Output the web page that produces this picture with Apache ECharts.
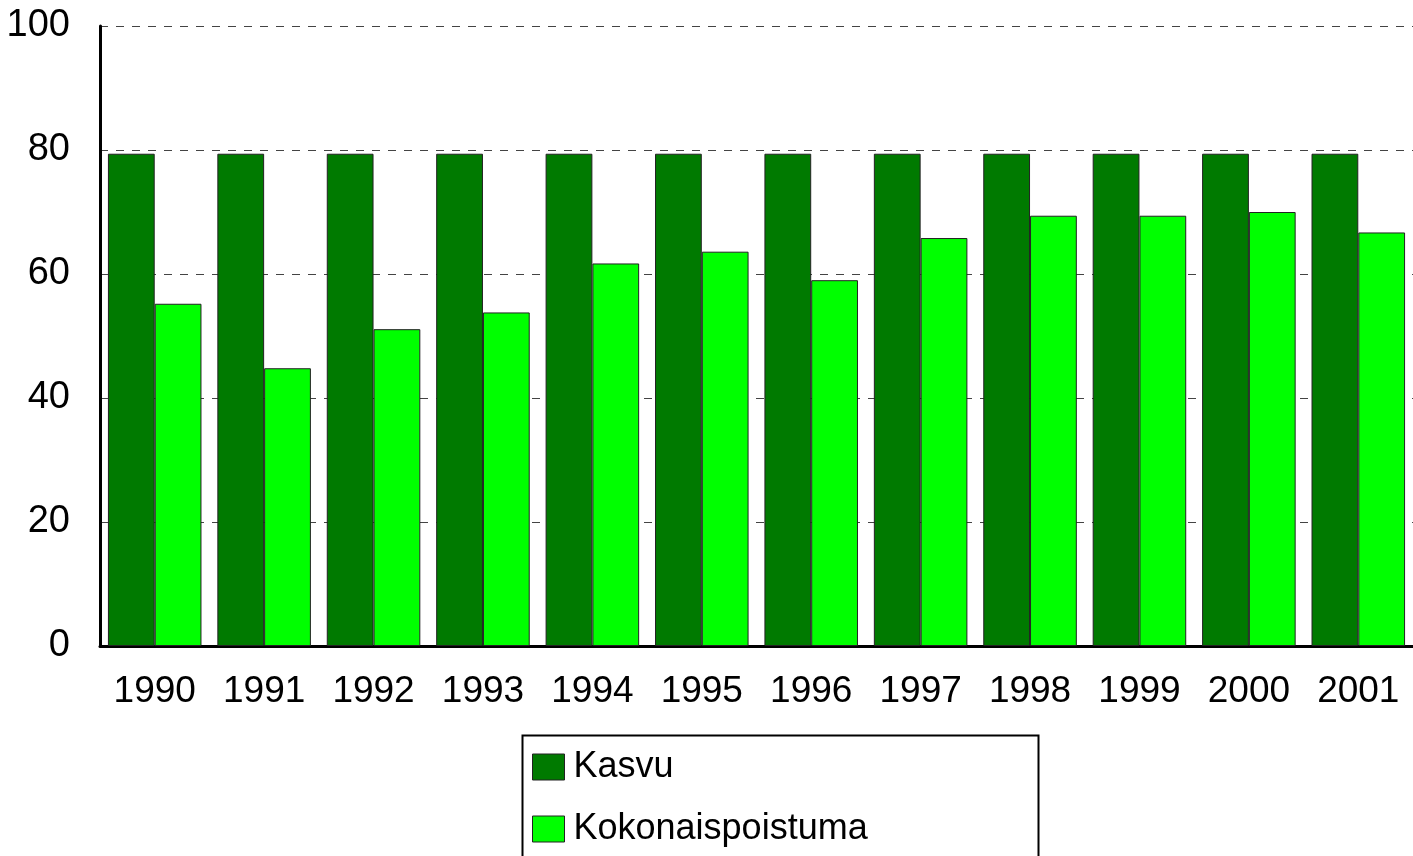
<!DOCTYPE html>
<html>
<head>
<meta charset="utf-8">
<script src="https://cdn.jsdelivr.net/npm/echarts@6/dist/echarts.min.js"></script>
<style>
	html, body { margin: 0; padding: 0; background: #fff; }
	#chart { width: 1413px; height: 856px; }
</style>
</head>
<body>
<div id="chart"></div>
<script>
var years = ['1990', '1991', '1992', '1993', '1994', '1995', '1996', '1997', '1998', '1999', '2000', '2001'];
var kasvu = [79.4, 79.4, 79.4, 79.4, 79.4, 79.4, 79.4, 79.4, 79.4, 79.4, 79.4, 79.4];
var kokonaispoistuma = [55.2, 44.8, 51.1, 53.8, 61.7, 63.6, 59.0, 65.8, 69.4, 69.4, 70.0, 66.7];
var yTicks = [0, 20, 40, 60, 80, 100];

var font = '"Liberation Sans", Arial, sans-serif';

var chart = document.getElementById('chart');
var myChart = echarts.init(chart);

var options = {
	animation: false,
	textStyle: { fontFamily: font },
	grid: {
		left: 100,
		top: 26,
		width: 1325,
		height: 620
	},
	// legend frame runs off the bottom edge like in the original
	graphic: [{
		type: 'rect',
		left: 520,
		top: 733,
		shape: { width: 516, height: 140 },
		style: { fill: 'none', stroke: '#000', lineWidth: 2 },
		z: 10
	}],
	legend: {
		orient: 'vertical',
		left: 521,
		top: 734,
		data: ['Kasvu', 'Kokonaispoistuma'],
		icon: 'rect',
		itemWidth: 32,
		itemHeight: 26,
		itemGap: 22,
		padding: [13, 10, 0, 11],
		itemStyle: { borderColor: '#222', borderWidth: 1 },
		textStyle: { fontFamily: font, fontSize: 36, color: '#000', lineHeight: 40, padding: [0, 0, 0, 4] }
	},
	xAxis: {
		type: 'category',
		data: years,
		axisLine: { lineStyle: { color: '#000', width: 3 } },
		axisTick: { show: false },
		axisLabel: { interval: 0, fontFamily: font, fontSize: 37, color: '#000', margin: 27 }
	},
	yAxis: {
		type: 'value',
		min: yTicks[0],
		max: yTicks[yTicks.length - 1],
		interval: 20,
		axisLine: { show: true, lineStyle: { color: '#000', width: 3 } },
		axisTick: { show: false },
		axisLabel: { fontFamily: font, fontSize: 38, color: '#000', margin: 30 },
		splitLine: { lineStyle: { color: '#444', type: [8, 8], width: 1 } }
	},
	series: [
		{
			name: 'Kasvu',
			type: 'bar',
			data: kasvu,
			barGap: '0%',
			barCategoryGap: '14.5%',
			itemStyle: { color: '#007A00', borderColor: '#222', borderWidth: 1 }
		},
		{
			name: 'Kokonaispoistuma',
			type: 'bar',
			data: kokonaispoistuma,
			barGap: '0%',
			barCategoryGap: '14.5%',
			itemStyle: { color: '#00FF00', borderColor: '#222', borderWidth: 1 }
		}
	]
};

myChart.setOption(options);
</script>
</body>
</html>
